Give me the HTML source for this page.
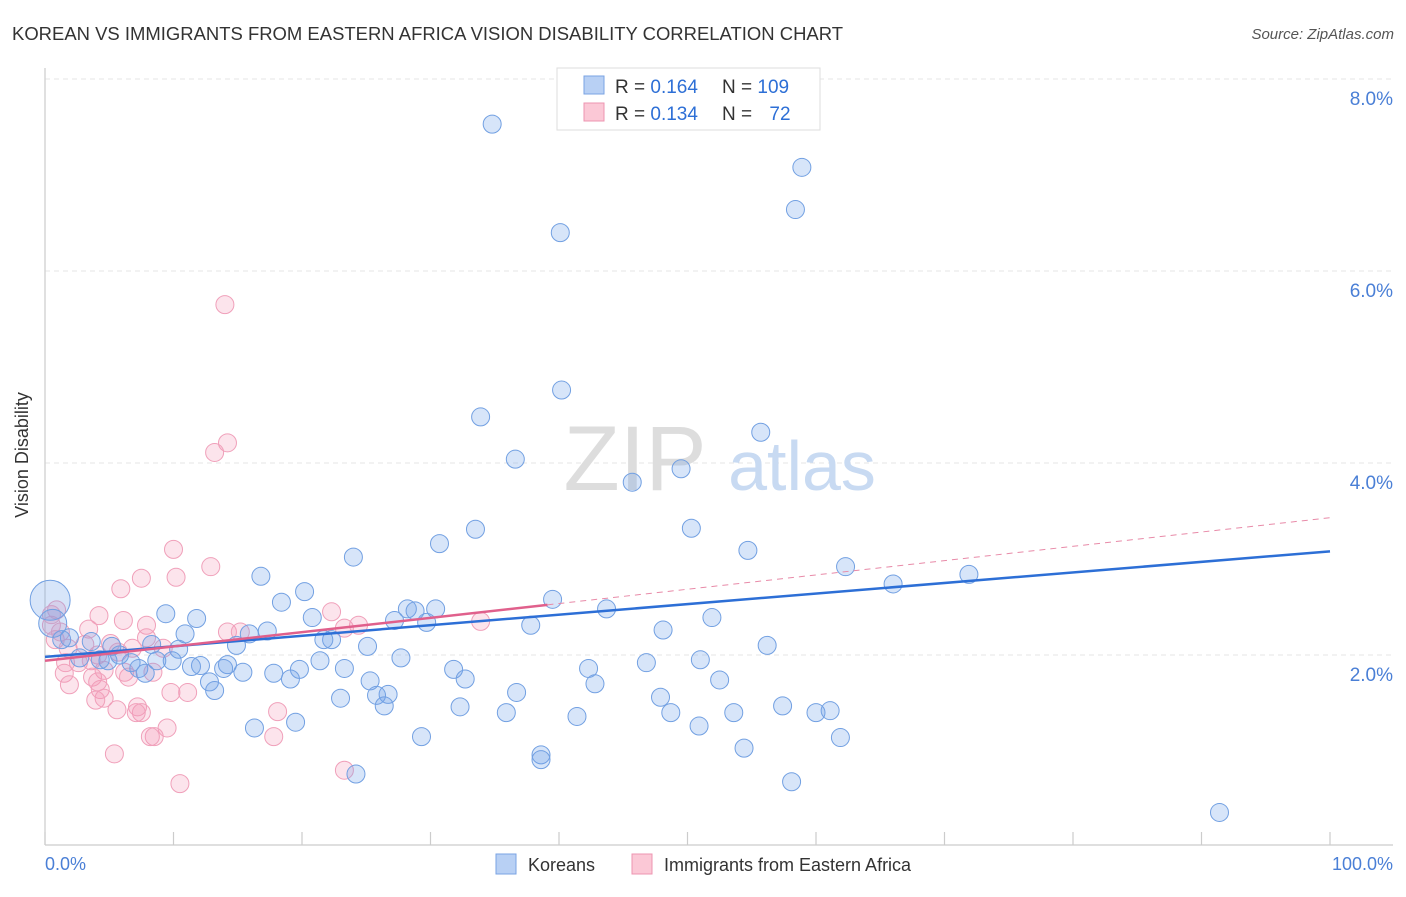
<!DOCTYPE html>
<html><head><meta charset="utf-8"><style>
body{margin:0;background:#fff;font-family:"Liberation Sans",sans-serif}
svg text{font-family:"Liberation Sans",sans-serif}
</style></head><body>
<svg width="1406" height="892" xmlns="http://www.w3.org/2000/svg">
<text x="12" y="40" font-size="18" fill="#333" textLength="831" lengthAdjust="spacingAndGlyphs">KOREAN VS IMMIGRANTS FROM EASTERN AFRICA VISION DISABILITY CORRELATION CHART</text>
<text x="1394" y="39" font-size="15" fill="#555" text-anchor="end" font-style="italic">Source: ZipAtlas.com</text>
<g id="grid"></g>
<text x="635" y="490" font-size="92" fill="#ddd" font-family="Liberation Serif" text-anchor="middle">ZIP</text>
<text x="802" y="490" font-size="70" fill="#c8daf2" text-anchor="middle">atlas</text>
<g id="axes"></g>
<g id="pts"></g>
<g id="trends"></g>
<text x="28" y="455" font-size="18" fill="#333" text-anchor="middle" transform="rotate(-90 28 455)">Vision Disability</text>
<text x="45" y="870" font-size="18" fill="#4a7fd6">0.0%</text>
<text x="1393" y="870" font-size="18" fill="#4a7fd6" text-anchor="end">100.0%</text>
<g>
<rect x="557" y="68" width="263" height="62" fill="#fff" stroke="#ddd"/>
<rect x="584" y="76" width="20" height="18" fill="#b8d0f4" stroke="#7aa3e3"/>
<rect x="584" y="103" width="20" height="18" fill="#fbc8d6" stroke="#ee94b0"/>
<text x="615" y="93" font-size="19" fill="#333">R = <tspan fill="#2d6fd6">0.164</tspan></text>
<text x="722" y="93" font-size="19" fill="#333">N = <tspan fill="#2d6fd6">109</tspan></text>
<text x="615" y="120" font-size="19" fill="#333">R = <tspan fill="#2d6fd6">0.134</tspan></text>
<text x="722" y="120" font-size="19" fill="#333">N = <tspan fill="#2d6fd6" dx="12">72</tspan></text>
</g>
<g>
<rect x="496" y="854" width="20" height="20" fill="#b8d0f4" stroke="#7aa3e3"/>
<text x="528" y="871" font-size="18" fill="#333">Koreans</text>
<rect x="632" y="854" width="20" height="20" fill="#fbc8d6" stroke="#ee94b0"/>
<text x="664" y="871" font-size="18" fill="#333">Immigrants from Eastern Africa</text>
</g>
</svg>
<script>
const yTicks=[2,4,6,8];
const yTickLabels=["2.0%","4.0%","6.0%","8.0%"];
const xTicks=[0,10,20,30,40,50,60,70,80,90,100];
const blueX=[34.8,58.9,58.4,40.1,40.2,33.9,55.7,36.6,49.5,45.7,33.5,50.3,30.7,54.7,24.0,62.3,71.9,16.8,66.0,20.2,39.5,18.4,9.4,28.2,28.8,30.4,43.7,11.8,20.8,27.2,29.7,51.9,37.8,17.3,48.1,10.9,15.9,22.3,21.7,1.9,56.2,25.1,14.9,10.4,5.2,8.3,4.9,6.7,8.7,9.9,14.2,12.1,11.4,27.7,21.4,51.0,46.8,42.3,31.8,23.3,19.8,17.8,15.4,13.9,7.3,7.8,32.7,19.1,25.3,42.8,12.8,52.5,13.2,36.7,26.7,25.8,47.9,23.0,26.4,32.3,57.4,48.7,35.9,60.0,61.1,53.6,41.4,19.5,50.9,16.3,29.3,61.9,54.4,38.6,38.6,24.2,58.1,91.4,3.6,4.3,2.7,5.8,1.3,0.4,0.6];
const blueY=[7.53,7.08,6.64,6.40,4.76,4.48,4.32,4.04,3.94,3.80,3.31,3.32,3.16,3.09,3.02,2.92,2.84,2.82,2.74,2.66,2.58,2.55,2.43,2.48,2.46,2.48,2.48,2.38,2.39,2.36,2.34,2.39,2.31,2.25,2.26,2.22,2.22,2.16,2.16,2.18,2.10,2.09,2.10,2.06,2.09,2.11,1.94,1.92,1.94,1.94,1.90,1.89,1.88,1.97,1.94,1.95,1.92,1.86,1.85,1.86,1.85,1.81,1.82,1.86,1.86,1.81,1.75,1.75,1.73,1.70,1.72,1.74,1.63,1.61,1.59,1.58,1.56,1.55,1.47,1.46,1.47,1.40,1.40,1.40,1.42,1.40,1.36,1.30,1.26,1.24,1.15,1.14,1.03,0.96,0.91,0.76,0.68,0.36,2.14,1.95,1.97,2.00,2.16,2.57,2.33];
const blueBig=[0,0,0,0,0,0,0,0,0,0,0,0,0,0,0,0,0,0,0,0,0,0,0,0,0,0,0,0,0,0,0,0,0,0,0,0,0,0,0,0,0,0,0,0,0,0,0,0,0,0,0,0,0,0,0,0,0,0,0,0,0,0,0,0,0,0,0,0,0,0,0,0,0,0,0,0,0,0,0,0,0,0,0,0,0,0,0,0,0,0,0,0,0,0,0,0,0,0,0,0,0,0,0,2,1];
const pinkX=[14.0,14.2,13.2,10.0,12.9,7.5,10.2,5.9,4.2,6.1,22.3,7.9,24.4,23.3,33.9,3.4,14.2,15.2,7.9,0.5,0.8,1.2,1.8,3.1,5.1,6.8,9.2,4.1,5.7,2.6,3.6,1.6,4.6,6.2,8.4,1.5,3.7,6.5,1.9,4.3,4.1,9.8,11.1,4.6,3.95,18.1,5.6,7.2,7.5,7.1,9.5,8.5,8.2,17.8,5.4,23.3,10.5,0.5,0.9];
const pinkY=[5.65,4.21,4.11,3.10,2.92,2.80,2.81,2.69,2.41,2.36,2.45,2.31,2.31,2.28,2.35,2.27,2.24,2.24,2.18,2.31,2.16,2.24,2.07,2.11,2.12,2.07,2.07,2.00,2.03,1.92,1.94,1.92,1.84,1.82,1.82,1.81,1.77,1.77,1.69,1.64,1.72,1.61,1.61,1.55,1.53,1.41,1.43,1.46,1.40,1.40,1.24,1.15,1.15,1.15,0.97,0.80,0.66,2.42,2.47];
const blueTrend=[1.98,3.08];
const pinkTrend=[1.94,3.43];
const pinkSolidEnd=39.1;
const X0=45,X1=1330,Y0=847,YPER=96;
const sx=v=>X0+(X1-X0)*v/100, sy=v=>Y0-v*YPER;
const NS="http://www.w3.org/2000/svg";
function mk(t,a,p){const e=document.createElementNS(NS,t);for(const k in a)e.setAttribute(k,a[k]);p.appendChild(e);return e;}
const grid=document.getElementById('grid');
yTicks.forEach((t,i)=>{
 const l=mk('line',{x1:X0,x2:1393,y1:sy(t),y2:sy(t),stroke:'#e6e6e6','stroke-width':1,'stroke-dasharray':'5,4'},grid);
 
 
 const tx=mk('text',{x:1393,y:sy(t)+26,'font-size':19,fill:'#4a7fd6','text-anchor':'end'},grid);
 tx.textContent=yTickLabels[i];
 
 
});
const topGrid=mk('line',{x1:X0,x2:1393,y1:79,y2:79,stroke:'#e6e6e6','stroke-width':1,'stroke-dasharray':'5,4'},grid);


const ax=document.getElementById('axes');
const yl=mk('line',{x1:X0,x2:X0,y1:68,y2:845,stroke:'#ccc','stroke-width':1.2},ax);


const xl=mk('line',{x1:X0,x2:1393,y1:845,y2:845,stroke:'#ccc','stroke-width':1.2},ax);


xTicks.forEach(t=>{
 const l=mk('line',{x1:sx(t),x2:sx(t),y1:832,y2:845,stroke:'#ccc','stroke-width':1.2},ax);
 
 
});
const pts=document.getElementById('pts');
pinkX.forEach((x,i)=>{
 const c=mk('circle',{cx:sx(x),cy:sy(pinkY[i]),r:9,fill:'rgba(244,150,180,0.26)',stroke:'#f0a0ba','stroke-width':1},pts);
 
 
});
blueX.forEach((x,i)=>{
 const rr=blueBig[i]===2?20:(blueBig[i]===1?14:9);
 const c=mk('circle',{cx:sx(x),cy:sy(blueY[i]),r:rr,fill:'rgba(110,160,235,0.28)',stroke:'#72a0e2','stroke-width':1},pts);
 
 
});
const tr=document.getElementById('trends');
const pAt=x=>pinkTrend[0]+(pinkTrend[1]-pinkTrend[0])*x/100;
const pd=mk('line',{x1:sx(pinkSolidEnd),y1:sy(pAt(pinkSolidEnd)),x2:sx(100),y2:sy(pinkTrend[1]),stroke:'#e88aa8','stroke-width':1,'stroke-dasharray':'6,5'},tr);


const bl=mk('line',{x1:sx(0),y1:sy(blueTrend[0]),x2:sx(100),y2:sy(blueTrend[1]),stroke:'#2d6fd6','stroke-width':2.5},tr);


const pl=mk('line',{x1:sx(0),y1:sy(pinkTrend[0]),x2:sx(pinkSolidEnd),y2:sy(pAt(pinkSolidEnd)),stroke:'#e0608c','stroke-width':2.5},tr);


</script>
</body></html>
